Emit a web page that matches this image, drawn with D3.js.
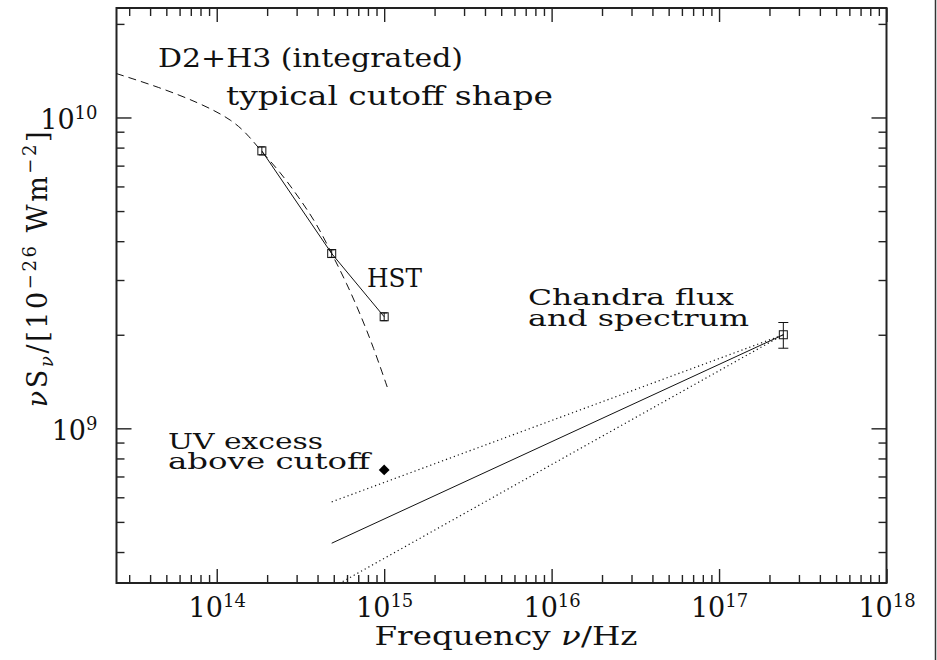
<!DOCTYPE html>
<html><head><meta charset="utf-8">
<script src="https://cdn.jsdelivr.net/npm/d3@7/dist/d3.min.js"></script>
<style>body{margin:0;background:#fff}svg{display:block}text{font-family:"DejaVu Serif",serif;fill:#111}</style>
</head><body><svg id="c" width="937" height="660"></svg>
<script>
// ---- data ----
const xDomain = [2.52e13, 1e18];
const yDomain = [3.18e8, 2.25e10];
const xMajor = [1e14, 1e15, 1e16, 1e17, 1e18];
const xMajorExp = ["14", "15", "16", "17", "18"];
const yMajor = [1e9, 1e10];
const yMajorExp = ["9", "10"];
const hstFreq = [1.86e14, 4.86e14, 1.0e15];
const hstFlux = [7.81e9, 3.65e9, 2.285e9];
const hstErr = [0.23e9, 0.10e9, 0.065e9];
const chandraFreq = [2.42e17];
const chandraFlux = [2.0e9];
const chandraErr = [0.19e9];
const uvFreq = [1.0e15];
const uvFlux = [7.35e8];
const cutoffFreq = [2.51e13, 4.48e13, 7.95e13, 1.251e14, 1.58e14, 1.857e14, 2.387e14, 3.07e14, 3.95e14, 4.86e14, 5.97e14, 7.17e14, 8.61e14, 1.058e15];
const cutoffFlux = [1.385e10, 1.254e10, 1.112e10, 9.80e9, 8.64e9, 7.75e9, 6.69e9, 5.56e9, 4.56e9, 3.65e9, 2.93e9, 2.34e9, 1.83e9, 1.328e9];
const plawFreq = [4.86e14, 2.42e17];
const plawBest = [4.27e8, 2.0e9];
const plawUpper = [5.8e8, 2.0e9];
const plawLower = [3.07e8, 2.0e9];

// ---- layout ----
const L = 116.5, R = 886.5, T = 8, B = 583;
const svg = d3.select("#c");
const x = d3.scaleLog().domain(xDomain).range([L, R]);
const y = d3.scaleLog().domain(yDomain).range([B, T]);

function minors(lo, hi) {
  const out = [];
  for (let e = Math.floor(Math.log10(lo)); e <= Math.ceil(Math.log10(hi)); e++)
    for (let m = 2; m <= 9; m++) { const v = m * Math.pow(10, e); if (v > lo && v < hi) out.push(v); }
  return out;
}
const xMinor = minors(xDomain[0], xDomain[1]);
const yMinor = minors(yDomain[0], yDomain[1]);

svg.append("defs").append("clipPath").attr("id", "clip")
  .append("rect").attr("x", L).attr("y", T).attr("width", R - L).attr("height", B - T);

function axisG(gen, tx, ty) {
  const g = svg.append("g").attr("transform", `translate(${tx},${ty})`).call(gen);
  g.select(".domain").remove();
  g.selectAll("line").attr("stroke", "#222").attr("stroke-width", 1.4);
  return g;
}
const gxb = axisG(d3.axisBottom(x).tickValues(xMajor).tickSize(-14).tickPadding(22), 0, B);
axisG(d3.axisBottom(x).tickValues(xMinor).tickSize(-8).tickFormat(""), 0, B);
axisG(d3.axisTop(x).tickValues(xMajor).tickSize(-14).tickFormat(""), 0, T);
axisG(d3.axisTop(x).tickValues(xMinor).tickSize(-8).tickFormat(""), 0, T);
const gyl = axisG(d3.axisLeft(y).tickValues(yMajor).tickSize(-15).tickPadding(20), L, 0);
axisG(d3.axisLeft(y).tickValues(yMinor).tickSize(-8).tickFormat(""), L, 0);
axisG(d3.axisRight(y).tickValues(yMajor).tickSize(-15).tickFormat(""), R, 0);
axisG(d3.axisRight(y).tickValues(yMinor).tickSize(-8).tickFormat(""), R, 0);

function powLabel(sel, exps) {
  sel.selectAll("text").each(function (d, i) {
    const t = d3.select(this).text(null)
      .attr("font-family", "DejaVu Serif").attr("font-size", 27).attr("fill", "#111");
    t.append("tspan").text("10");
    t.append("tspan").attr("dy", -10).attr("font-size", 18).text(exps[i]);
  });
}
powLabel(gxb, xMajorExp);
gxb.selectAll("text").attr("dy", null).attr("y", 34);
powLabel(gyl, yMajorExp);
gyl.selectAll("text").attr("dy", null).attr("y", 11).attr("x", -19);

// frame
svg.append("rect").attr("x", L).attr("y", T).attr("width", R - L).attr("height", B - T)
  .attr("fill", "none").attr("stroke", "#222").attr("stroke-width", 2);
// right page edge line
svg.append("line").attr("x1", 935.5).attr("x2", 935.5).attr("y1", 0).attr("y2", 660)
  .attr("stroke", "#333").attr("stroke-width", 1.5);

const plot = svg.append("g").attr("clip-path", "url(#clip)");
const line = d3.line().x(d => x(d[0])).y(d => y(d[1]));

// cutoff curve (dashed)
plot.append("path").datum(d3.zip(cutoffFreq, cutoffFlux))
  .attr("d", d3.line().x(d => x(d[0])).y(d => y(d[1])).curve(d3.curveBasis))
  .attr("fill", "none").attr("stroke", "#111").attr("stroke-width", 1)
  .attr("stroke-dasharray", "8,5");

// HST connecting line
plot.append("path").datum(d3.zip(hstFreq, hstFlux)).attr("d", line)
  .attr("fill", "none").attr("stroke", "#111").attr("stroke-width", 1);

// power laws
plot.append("path").datum(d3.zip(plawFreq, plawBest)).attr("d", line)
  .attr("fill", "none").attr("stroke", "#111").attr("stroke-width", 1);
[plawUpper, plawLower].forEach(arr => {
  plot.append("path").datum(d3.zip(plawFreq, arr)).attr("d", line)
    .attr("fill", "none").attr("stroke", "#111").attr("stroke-width", 1.2)
    .attr("stroke-dasharray", "1.2,3");
});

// points with error bars
function points(fr, fl, er, cap) {
  fr.forEach((f, i) => {
    const cx = x(f), cy = y(fl[i]), y1 = y(fl[i] + er[i]), y2 = y(fl[i] - er[i]);
    const g = plot.append("g").attr("stroke", "#111").attr("stroke-width", 1).attr("fill", "none");
    g.append("line").attr("x1", cx).attr("x2", cx).attr("y1", y1).attr("y2", y2);
    g.append("line").attr("x1", cx - cap).attr("x2", cx + cap).attr("y1", y1).attr("y2", y1);
    g.append("line").attr("x1", cx - cap).attr("x2", cx + cap).attr("y1", y2).attr("y2", y2);
    g.append("rect").attr("x", cx - 4).attr("y", cy - 4).attr("width", 8).attr("height", 8);
  });
}
points(hstFreq, hstFlux, hstErr, 3);
points(chandraFreq, chandraFlux, chandraErr, 5);

// UV excess diamond
plot.selectAll(".uv").data(d3.zip(uvFreq, uvFlux)).enter().append("path")
  .attr("d", d3.symbol(d3.symbolDiamond2, 75))
  .attr("transform", d => `translate(${x(d[0])},${y(d[1])})`)
  .attr("fill", "#000");

// annotations
function label(txt, xx, yy, w, fs) {
  svg.append("text").attr("x", xx).attr("y", yy).attr("font-size", fs || 26)
    .attr("textLength", w).attr("lengthAdjust", "spacingAndGlyphs").text(txt);
}
label("D2+H3 (integrated)", 158, 67, 305);
label("typical cutoff shape", 226, 105, 327);
label("HST", 367, 287, 55);
label("Chandra flux", 528, 305, 206, 23);
label("and spectrum", 528, 326, 221, 23);
label("UV excess", 168, 449, 155, 23);
label("above cutoff", 168, 469, 202, 23);

// axis titles
const xt = svg.append("text").attr("x", 506).attr("y", 645).attr("text-anchor", "middle")
  .attr("font-size", 26).attr("textLength", 263).attr("lengthAdjust", "spacingAndGlyphs");
xt.append("tspan").text("Frequency ");
xt.append("tspan").attr("font-style", "italic").text("ν");
xt.append("tspan").text("/Hz");

const yt = svg.append("text").attr("transform", "translate(47,268) rotate(-90)")
  .attr("text-anchor", "middle").attr("font-size", 27).attr("letter-spacing", 2.6);
yt.append("tspan").attr("font-style", "italic").text("ν");
yt.append("tspan").text("S");
yt.append("tspan").attr("font-style", "italic").attr("font-size", 18).attr("dy", 6).text("ν");
yt.append("tspan").attr("dy", -6).text("/[10");
yt.append("tspan").attr("font-size", 18).attr("dy", -11).text("−26");
yt.append("tspan").attr("dy", 11).text(" Wm");
yt.append("tspan").attr("font-size", 18).attr("dy", -11).text("−2");
yt.append("tspan").attr("dy", 11).text("]");
</script></body></html>
